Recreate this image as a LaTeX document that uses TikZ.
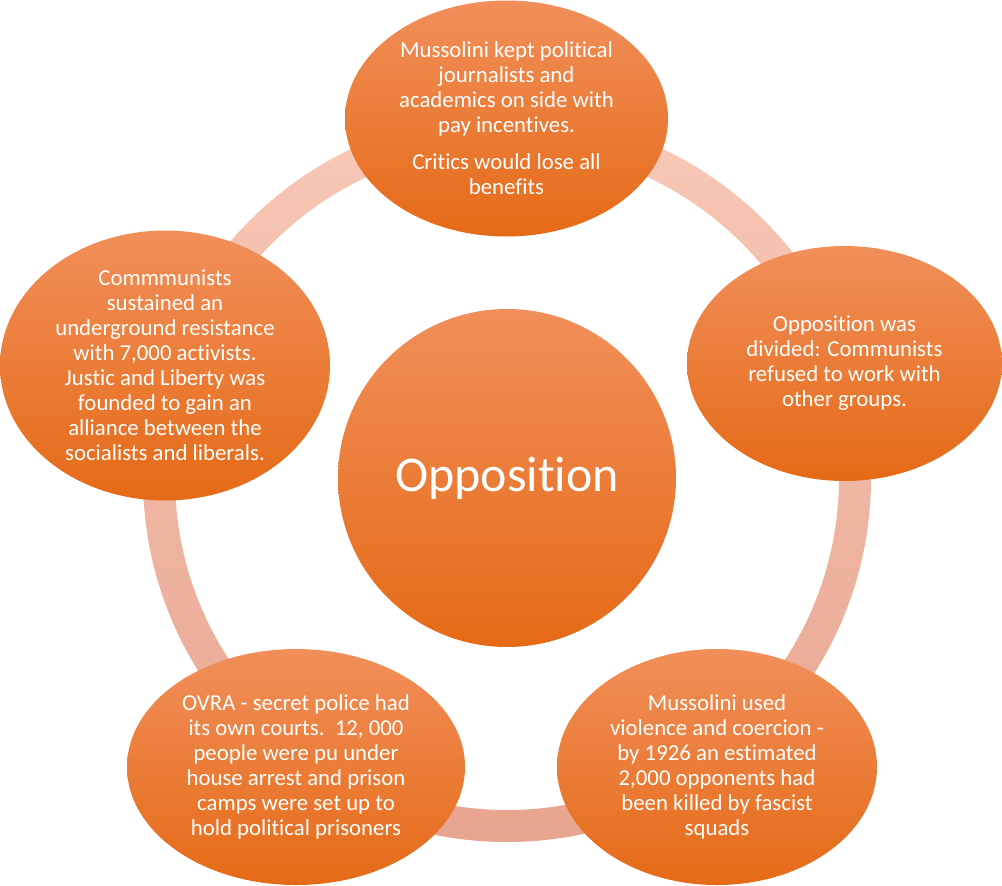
\documentclass[tikz,border=0pt]{standalone}
\usepackage{fontspec}
\setmainfont{Carlito}[Ligatures={CommonOff,ContextualOff}, Contextuals=AlternateOff]
\usetikzlibrary{shapes.geometric}
\definecolor{orangetop}{RGB}{241,143,90}
\definecolor{orangemid}{RGB}{244,126,44}
\definecolor{orangebot}{RGB}{229,106,22}
\definecolor{ringtop}{RGB}{248,200,182}
\definecolor{ringbot}{RGB}{231,165,144}
\tikzstyle{bubble}=[ellipse, inner sep=0, top color=orangetop, middle color=orangemid, bottom color=orangebot, text=white, align=center, font=\fontsize{22.8}{25}\selectfont]
\tikzstyle{hub}=[circle, inner sep=0, minimum size=338pt, top color=orangetop, middle color=orangemid, bottom color=orangebot, text=white, font=\fontsize{50}{60}\selectfont]

\begin{document}
\begin{tikzpicture}[x=1pt, y=-1pt]
      \useasboundingbox (0,0) rectangle (1002,886);

      \coordinate (centre) at (507,478);
      \path[top color=ringtop, bottom color=ringbot, even odd rule]
        (centre) circle (364) (centre) circle (332);

      \node[hub] (opposition) at (centre) {Opposition};

      \node[bubble, minimum width=323pt, minimum height=236pt] (journalists) at (506.5,118.5)
        {Mussolini kept political\\ journalists and\\ academics on side with\\ pay incentives.\\[12pt] Critics would lose all\\ benefits};

      \node[bubble, minimum width=315pt, minimum height=235pt] (divided) at (844.5,363.5)
        {Opposition was\\ divided: Communists\\ refused to work with\\ other groups.};

      \node[bubble, minimum width=320pt, minimum height=236pt] (violence) at (717,767)
        {Mussolini used\\ violence and coercion -\\ by 1926 an estimated\\ 2,000 opponents had\\ been killed by fascist\\ squads};

      \node[bubble, minimum width=338pt, minimum height=236pt] (ovra) at (296,767)
        {OVRA - secret police had\\ its own courts.~~12, 000\\ people were pu under\\ house arrest and prison\\ camps were set up to\\ hold political prisoners};

      \node[bubble, minimum width=330pt, minimum height=235pt] (resistance) at (165,365.5)
        {Commmunists\\ sustained an\\ underground resistance\\ with 7,000 activists.\\ Justic and Liberty was\\ founded to gain an\\ alliance between the\\ socialists and liberals.};
    \end{tikzpicture}
\end{document}
